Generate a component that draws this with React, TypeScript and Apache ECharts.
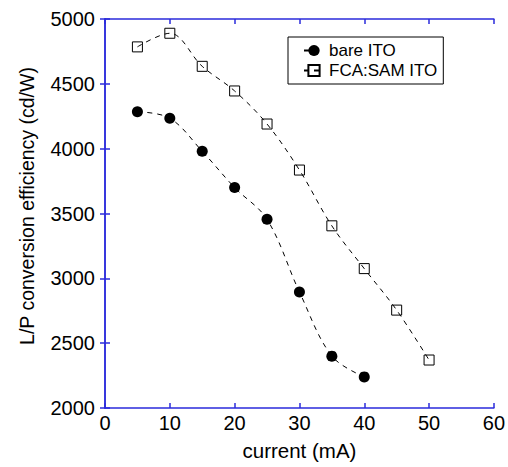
import React, { useEffect, useRef } from "react";
import * as echarts from "echarts";

const currentBare = [5, 10, 15, 20, 25, 30, 35, 40];
const bareITO = [4285, 4235, 3980, 3700, 3455, 2895, 2400, 2240];
const currentFCA = [5, 10, 15, 20, 25, 30, 35, 40, 45, 50];
const fcaSAM = [4785, 4890, 4635, 4445, 4190, 3835, 3405, 3075, 2755, 2370];
const seriesNames = ["bare ITO", "FCA:SAM ITO"];
const xTitle = "current (mA)";
const yTitle = "L/P conversion efficiency (cd/W)";

const AXIS = "#2b2bdb";
const FONT = "Liberation Sans, Arial, sans-serif";

export default function App() {
  const ref = useRef<HTMLDivElement>(null);
  useEffect(() => {
    if (!ref.current) return;
    const chart = echarts.init(ref.current, undefined, { renderer: "svg" });
    const axisCommon = {
      axisLine: { show: true, lineStyle: { color: AXIS, width: 1.5 } },
      axisTick: { show: true, inside: true, length: 5, lineStyle: { color: AXIS, width: 1.5 } },
      splitLine: { show: false },
    };
    chart.setOption({
      animation: false,
      backgroundColor: "#fff",
      textStyle: { fontFamily: FONT },
      grid: { left: 105, right: 14, top: 19, bottom: 59 },
      graphic: [
        {
          type: "text",
          x: 27,
          y: 206,
          rotation: Math.PI / 2,
          style: {
            text: yTitle,
            fontSize: 19.5,
            fontFamily: FONT,
            fill: "#000",
            align: "center",
            verticalAlign: "middle",
          },
        },
      ],
      legend: {
        orient: "vertical",
        left: 288,
        top: 37,
        padding: [5, 6, 5, 15],
        itemGap: 3,
        itemWidth: 20,
        itemHeight: 14,
        borderColor: "#000",
        borderWidth: 1,
        backgroundColor: "#fff",
        textStyle: { fontSize: 17, color: "#000", fontFamily: FONT },
        data: seriesNames,
      },
      xAxis: [
        {
          type: "value",
          min: 0,
          max: 60,
          interval: 10,
          name: xTitle,
          nameLocation: "middle",
          nameGap: 32,
          nameTextStyle: { fontSize: 20.5, color: "#000", fontFamily: FONT },
          axisLabel: { fontSize: 20, color: "#000", margin: 5, fontFamily: FONT, formatter: (v: number) => String(v) },
          ...axisCommon,
        },
        {
          type: "value",
          position: "top",
          min: 0,
          max: 60,
          interval: 10,
          axisLabel: { show: false },
          ...axisCommon,
        },
      ],
      yAxis: [
        {
          type: "value",
          min: 2000,
          max: 5000,
          interval: 500,
          axisLabel: { fontSize: 20, color: "#000", margin: 10, fontFamily: FONT, formatter: (v: number) => String(v) },
          ...axisCommon,
        },
        {
          type: "value",
          position: "right",
          min: 2000,
          max: 5000,
          interval: 500,
          axisLabel: { show: false },
          ...axisCommon,
        },
      ],
      series: [
        {
          name: seriesNames[0],
          type: "line",
          data: currentBare.map((x, i) => [x, bareITO[i]]),
          smooth: 0.35,
          symbol: "circle",
          symbolSize: 11,
          itemStyle: { color: "#000" },
          lineStyle: { color: "#000", width: 1, type: [5, 5] },
        },
        {
          name: seriesNames[1],
          type: "line",
          data: currentFCA.map((x, i) => [x, fcaSAM[i]]),
          smooth: 0.35,
          symbol: "rect",
          symbolSize: 10,
          itemStyle: { color: "rgba(0,0,0,0)", borderColor: "#000", borderWidth: 1 },
          lineStyle: { color: "#000", width: 1, type: [5, 5] },
        },
      ],
    });
    return () => chart.dispose();
  }, []);
  return <div ref={ref} style={{ width: 508, height: 467, position: "absolute", left: 0, top: 0 }} />;
}
